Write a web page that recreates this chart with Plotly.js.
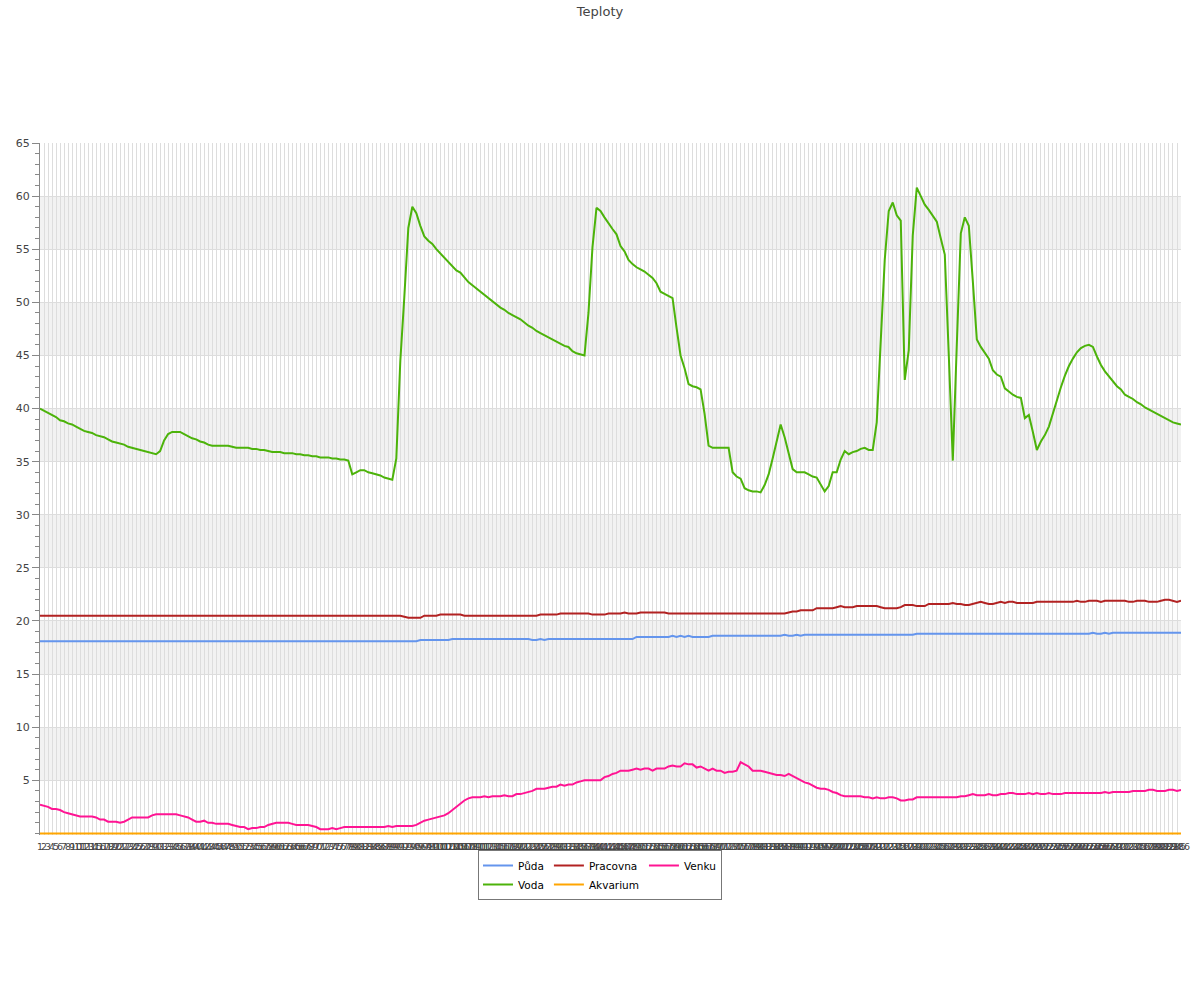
<!DOCTYPE html>
<html>
<head>
<meta charset="utf-8">
<script src="https://cdn.plot.ly/plotly-3.0.1.min.js"></script>
<style>html,body{margin:0;padding:0;background:#fff;}#chart{width:1200px;height:1000px;}</style>
</head>
<body>
<div id="chart"></div>
<script>
// Sample numbers shown on the category axis (1..286)
var sampleCount = 286;
var samples = [];
for (var s = 1; s <= sampleCount; s++) samples.push(s);

var seriesNames = ["Půda", "Voda", "Pracovna", "Akvarium", "Venku"];

var puda = [
18.1,18.1,18.1,18.1,18.1,18.1,18.1,18.1,18.1,18.1,
18.1,18.1,18.1,18.1,18.1,18.1,18.1,18.1,18.1,18.1,
18.1,18.1,18.1,18.1,18.1,18.1,18.1,18.1,18.1,18.1,
18.1,18.1,18.1,18.1,18.1,18.1,18.1,18.1,18.1,18.1,
18.1,18.1,18.1,18.1,18.1,18.1,18.1,18.1,18.1,18.1,
18.1,18.1,18.1,18.1,18.1,18.1,18.1,18.1,18.1,18.1,
18.1,18.1,18.1,18.1,18.1,18.1,18.1,18.1,18.1,18.1,
18.1,18.1,18.1,18.1,18.1,18.1,18.1,18.1,18.1,18.1,
18.1,18.1,18.1,18.1,18.1,18.1,18.1,18.1,18.1,18.1,
18.1,18.1,18.1,18.1,18.1,18.2,18.2,18.2,18.2,18.2,
18.2,18.2,18.2,18.3,18.3,18.3,18.3,18.3,18.3,18.3,
18.3,18.3,18.3,18.3,18.3,18.3,18.3,18.3,18.3,18.3,
18.3,18.3,18.3,18.2,18.2,18.3,18.2,18.3,18.3,18.3,
18.3,18.3,18.3,18.3,18.3,18.3,18.3,18.3,18.3,18.3,
18.3,18.3,18.3,18.3,18.3,18.3,18.3,18.3,18.3,18.5,
18.5,18.5,18.5,18.5,18.5,18.5,18.5,18.5,18.6,18.5,
18.6,18.5,18.6,18.5,18.5,18.5,18.5,18.5,18.6,18.6,
18.6,18.6,18.6,18.6,18.6,18.6,18.6,18.6,18.6,18.6,
18.6,18.6,18.6,18.6,18.6,18.6,18.7,18.6,18.6,18.7,
18.6,18.7,18.7,18.7,18.7,18.7,18.7,18.7,18.7,18.7,
18.7,18.7,18.7,18.7,18.7,18.7,18.7,18.7,18.7,18.7,
18.7,18.7,18.7,18.7,18.7,18.7,18.7,18.7,18.7,18.8,
18.8,18.8,18.8,18.8,18.8,18.8,18.8,18.8,18.8,18.8,
18.8,18.8,18.8,18.8,18.8,18.8,18.8,18.8,18.8,18.8,
18.8,18.8,18.8,18.8,18.8,18.8,18.8,18.8,18.8,18.8,
18.8,18.8,18.8,18.8,18.8,18.8,18.8,18.8,18.8,18.8,
18.8,18.8,18.8,18.9,18.8,18.8,18.9,18.8,18.9,18.9,
18.9,18.9,18.9,18.9,18.9,18.9,18.9,18.9,18.9,18.9,
18.9,18.9,18.9,18.9,18.9,18.9
];

var voda = [
40.0,39.8,39.6,39.4,39.2,38.9,38.8,38.6,38.5,38.3,
38.1,37.9,37.8,37.7,37.5,37.4,37.3,37.1,36.9,36.8,
36.7,36.6,36.4,36.3,36.2,36.1,36.0,35.9,35.8,35.7,
36.0,37.0,37.6,37.8,37.8,37.8,37.6,37.4,37.2,37.1,
36.9,36.8,36.6,36.5,36.5,36.5,36.5,36.5,36.4,36.3,
36.3,36.3,36.3,36.2,36.2,36.1,36.1,36.0,35.9,35.9,
35.9,35.8,35.8,35.8,35.7,35.7,35.6,35.6,35.5,35.5,
35.4,35.4,35.4,35.3,35.3,35.2,35.2,35.1,33.8,34.0,
34.2,34.2,34.0,33.9,33.8,33.7,33.5,33.4,33.3,35.3,
44.5,50.5,57.0,59.0,58.4,57.2,56.2,55.8,55.5,55.0,
54.6,54.2,53.8,53.4,53.0,52.8,52.3,51.9,51.6,51.3,
51.0,50.7,50.4,50.1,49.8,49.5,49.3,49.0,48.8,48.6,
48.4,48.1,47.8,47.6,47.3,47.1,46.9,46.7,46.5,46.3,
46.1,45.9,45.8,45.4,45.2,45.1,45.0,49.0,55.2,58.9,
58.6,58.0,57.4,56.9,56.4,55.3,54.8,54.0,53.6,53.3,
53.1,52.9,52.6,52.3,51.8,51.0,50.8,50.6,50.4,47.6,
45.0,43.8,42.3,42.1,42.0,41.8,39.5,36.5,36.3,36.3,
36.3,36.3,36.3,34.0,33.6,33.4,32.5,32.3,32.2,32.2,
32.1,32.8,33.8,35.3,36.9,38.5,37.3,35.7,34.3,34.0,
34.0,34.0,33.8,33.6,33.5,32.9,32.2,32.7,34.0,34.0,
35.2,36.0,35.7,35.9,36.0,36.2,36.3,36.1,36.1,38.7,
46.5,54.0,58.6,59.4,58.2,57.7,42.7,45.5,56.3,60.8,
60.0,59.2,58.7,58.2,57.6,56.0,54.5,45.0,35.1,46.0,
56.5,58.0,57.2,52.0,46.5,45.8,45.3,44.7,43.6,43.2,
43.0,41.9,41.6,41.3,41.1,41.0,39.1,39.4,37.8,36.1,
36.9,37.5,38.3,39.6,40.9,42.0,43.1,44.0,44.7,45.3,
45.7,45.9,46.0,45.8,44.9,44.1,43.5,43.0,42.5,42.1,
41.8,41.3,41.1,40.9,40.6,40.4,40.1,39.9,39.7,39.5,
39.3,39.1,38.9,38.7,38.6,38.5
];

var pracovna = [
20.5,20.5,20.5,20.5,20.5,20.5,20.5,20.5,20.5,20.5,
20.5,20.5,20.5,20.5,20.5,20.5,20.5,20.5,20.5,20.5,
20.5,20.5,20.5,20.5,20.5,20.5,20.5,20.5,20.5,20.5,
20.5,20.5,20.5,20.5,20.5,20.5,20.5,20.5,20.5,20.5,
20.5,20.5,20.5,20.5,20.5,20.5,20.5,20.5,20.5,20.5,
20.5,20.5,20.5,20.5,20.5,20.5,20.5,20.5,20.5,20.5,
20.5,20.5,20.5,20.5,20.5,20.5,20.5,20.5,20.5,20.5,
20.5,20.5,20.5,20.5,20.5,20.5,20.5,20.5,20.5,20.5,
20.5,20.5,20.5,20.5,20.5,20.5,20.5,20.5,20.5,20.5,
20.5,20.4,20.3,20.3,20.3,20.3,20.5,20.5,20.5,20.5,
20.6,20.6,20.6,20.6,20.6,20.6,20.5,20.5,20.5,20.5,
20.5,20.5,20.5,20.5,20.5,20.5,20.5,20.5,20.5,20.5,
20.5,20.5,20.5,20.5,20.5,20.6,20.6,20.6,20.6,20.6,
20.7,20.7,20.7,20.7,20.7,20.7,20.7,20.7,20.6,20.6,
20.6,20.6,20.7,20.7,20.7,20.7,20.8,20.7,20.7,20.7,
20.8,20.8,20.8,20.8,20.8,20.8,20.8,20.7,20.7,20.7,
20.7,20.7,20.7,20.7,20.7,20.7,20.7,20.7,20.7,20.7,
20.7,20.7,20.7,20.7,20.7,20.7,20.7,20.7,20.7,20.7,
20.7,20.7,20.7,20.7,20.7,20.7,20.7,20.8,20.9,20.9,
21.0,21.0,21.0,21.0,21.2,21.2,21.2,21.2,21.2,21.3,
21.4,21.3,21.3,21.3,21.4,21.4,21.4,21.4,21.4,21.4,
21.3,21.2,21.2,21.2,21.2,21.3,21.5,21.5,21.5,21.4,
21.4,21.4,21.6,21.6,21.6,21.6,21.6,21.6,21.7,21.6,
21.6,21.5,21.5,21.6,21.7,21.8,21.7,21.6,21.6,21.7,
21.8,21.7,21.8,21.8,21.7,21.7,21.7,21.7,21.7,21.8,
21.8,21.8,21.8,21.8,21.8,21.8,21.8,21.8,21.8,21.9,
21.8,21.8,21.9,21.9,21.9,21.8,21.9,21.9,21.9,21.9,
21.9,21.9,21.8,21.8,21.9,21.9,21.9,21.8,21.8,21.8,
21.9,22.0,22.0,21.9,21.8,21.9
];

var akvarium = [
0,0,0,0,0,0,0,0,0,0, 0,0,0,0,0,0,0,0,0,0, 0,0,0,0,0,0,0,0,0,0,
0,0,0,0,0,0,0,0,0,0, 0,0,0,0,0,0,0,0,0,0, 0,0,0,0,0,0,0,0,0,0,
0,0,0,0,0,0,0,0,0,0, 0,0,0,0,0,0,0,0,0,0, 0,0,0,0,0,0,0,0,0,0,
0,0,0,0,0,0,0,0,0,0, 0,0,0,0,0,0,0,0,0,0, 0,0,0,0,0,0,0,0,0,0,
0,0,0,0,0,0,0,0,0,0, 0,0,0,0,0,0,0,0,0,0, 0,0,0,0,0,0,0,0,0,0,
0,0,0,0,0,0,0,0,0,0, 0,0,0,0,0,0,0,0,0,0, 0,0,0,0,0,0,0,0,0,0,
0,0,0,0,0,0,0,0,0,0, 0,0,0,0,0,0,0,0,0,0, 0,0,0,0,0,0,0,0,0,0,
0,0,0,0,0,0,0,0,0,0, 0,0,0,0,0,0,0,0,0,0, 0,0,0,0,0,0,0,0,0,0,
0,0,0,0,0,0,0,0,0,0, 0,0,0,0,0,0,0,0,0,0, 0,0,0,0,0,0,0,0,0,0,
0,0,0,0,0,0,0,0,0,0, 0,0,0,0,0,0
];

var venku = [
2.7,2.6,2.5,2.3,2.3,2.2,2.0,1.9,1.8,1.7,
1.6,1.6,1.6,1.6,1.5,1.3,1.3,1.1,1.1,1.1,
1.0,1.1,1.3,1.5,1.5,1.5,1.5,1.5,1.7,1.8,
1.8,1.8,1.8,1.8,1.8,1.7,1.6,1.5,1.3,1.1,
1.1,1.2,1.0,1.0,0.9,0.9,0.9,0.9,0.8,0.7,
0.6,0.6,0.4,0.5,0.5,0.6,0.6,0.8,0.9,1.0,
1.0,1.0,1.0,0.9,0.8,0.8,0.8,0.8,0.7,0.6,
0.4,0.4,0.4,0.5,0.4,0.5,0.6,0.6,0.6,0.6,
0.6,0.6,0.6,0.6,0.6,0.6,0.6,0.7,0.6,0.7,
0.7,0.7,0.7,0.7,0.8,1.0,1.2,1.3,1.4,1.5,
1.6,1.7,1.9,2.2,2.5,2.8,3.1,3.3,3.4,3.4,
3.4,3.5,3.4,3.5,3.5,3.5,3.6,3.5,3.5,3.7,
3.7,3.8,3.9,4.0,4.2,4.2,4.2,4.3,4.4,4.4,
4.6,4.5,4.6,4.6,4.8,4.9,5.0,5.0,5.0,5.0,
5.0,5.3,5.4,5.6,5.7,5.9,5.9,5.9,6.0,6.1,
6.0,6.1,6.1,5.9,6.1,6.1,6.1,6.3,6.4,6.3,
6.3,6.6,6.5,6.5,6.2,6.3,6.1,5.9,6.1,5.9,
5.9,5.7,5.8,5.8,5.9,6.7,6.5,6.3,5.9,5.9,
5.9,5.8,5.7,5.6,5.5,5.5,5.4,5.6,5.4,5.2,
5.0,4.8,4.7,4.5,4.3,4.2,4.2,4.1,3.9,3.8,
3.6,3.5,3.5,3.5,3.5,3.5,3.4,3.4,3.3,3.4,
3.3,3.3,3.4,3.4,3.3,3.1,3.1,3.2,3.2,3.4,
3.4,3.4,3.4,3.4,3.4,3.4,3.4,3.4,3.4,3.4,
3.5,3.5,3.6,3.7,3.6,3.6,3.6,3.7,3.6,3.6,
3.7,3.7,3.8,3.8,3.7,3.7,3.7,3.8,3.7,3.8,
3.7,3.7,3.8,3.7,3.7,3.7,3.8,3.8,3.8,3.8,
3.8,3.8,3.8,3.8,3.8,3.8,3.9,3.8,3.9,3.9,
3.9,3.9,3.9,4.0,4.0,4.0,4.0,4.1,4.1,4.0,
4.0,4.0,4.1,4.1,4.0,4.1
];

var yTicks = [5, 10, 15, 20, 25, 30, 35, 40, 45, 50, 55, 60, 65];

var seriesValues = [puda, voda, pracovna, akvarium, venku];
var seriesColors = ["#6495ed", "#4cb30a", "#b22222", "#ffa500", "#ff1493"];
var seriesGroups = ["g1", "g1", "g2", "g2", "g3"];

var traces = seriesNames.map(function (name, k) {
  return {
    type: "scatter",
    mode: "lines",
    name: name,
    x: samples,
    y: seriesValues[k],
    legendgroup: seriesGroups[k],
    line: { color: seriesColors[k], width: 2 },
    hoverinfo: "x+y+name"
  };
});

// alternating horizontal bands
var shapes = [];
for (var b = 5; b < 65; b += 10) {
  shapes.push({
    type: "rect", xref: "paper", yref: "y", x0: 0, x1: 1, y0: b, y1: b + 5,
    fillcolor: "#f2f2f2", line: { width: 0 }, layer: "below"
  });
}

var layout = {
  width: 1200,
  height: 1000,
  paper_bgcolor: "#ffffff",
  plot_bgcolor: "#ffffff",
  font: { family: "DejaVu Sans, sans-serif", color: "#444", size: 11 },
  margin: { l: 40, r: 19, t: 143, b: 165 },
  title: {
    text: "Teploty",
    font: { family: "DejaVu Sans, sans-serif", size: 13, color: "#444" },
    x: 0.5, xanchor: "center", xref: "container",
    y: 0.989, yanchor: "middle", yref: "container"
  },
  showlegend: true,
  legend: {
    orientation: "h",
    traceorder: "grouped",
    xref: "container", x: 0.5, xanchor: "center",
    yref: "container", y: 0.15, yanchor: "top",
    bgcolor: "#ffffff",
    bordercolor: "#777",
    borderwidth: 1,
    font: { family: "DejaVu Sans, sans-serif", size: 10.5, color: "#000" },
    tracegroupgap: 0
  },
  xaxis: {
    type: "linear",
    range: [1, sampleCount],
    tickmode: "linear",
    tick0: 1,
    dtick: 1,
    tickangle: 0,
    ticks: "",
    ticklabelstandoff: 4,
    showgrid: true,
    gridcolor: "#dddddd",
    gridwidth: 1,
    zeroline: false,
    showline: false,
    tickfont: { size: 9.5, color: "#444" },
    fixedrange: true
  },
  yaxis: {
    range: [-0.15, 65],
    tickmode: "array",
    tickvals: yTicks,
    ticktext: yTicks.map(String),
    ticks: "outside",
    ticklen: 7,
    tickwidth: 1,
    tickcolor: "#888",
    showline: true,
    linecolor: "#888",
    linewidth: 1,
    showgrid: true,
    gridcolor: "#dddddd",
    zeroline: false,
    tickfont: { size: 11, color: "#444" },
    minor: { dtick: 1, tick0: 0, ticks: "outside", ticklen: 4, tickcolor: "#888", showgrid: false },
    fixedrange: true
  },
  shapes: shapes
};

Plotly.newPlot("chart", traces, layout, { displayModeBar: false, staticPlot: true });
</script>
</body>
</html>
